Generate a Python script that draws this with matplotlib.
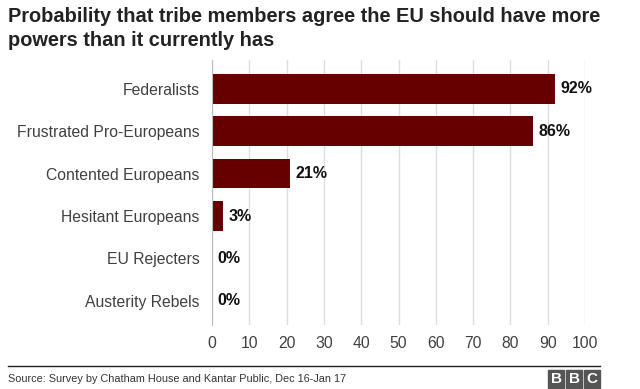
import matplotlib
matplotlib.use('agg')
import matplotlib.pyplot as plt
from matplotlib.patches import Rectangle

plt.rcParams['font.family'] = ['Liberation Sans', 'DejaVu Sans']

#chart data
tribes = ['Federalists', 'Frustrated Pro-Europeans', 'Contented Europeans',
          'Hesitant Europeans', 'EU Rejecters', 'Austerity Rebels']
probs = [92, 86, 21, 3, 0, 0]
xticks = [0, 10, 20, 30, 40, 50, 60, 70, 80, 90, 100]

title = 'Probability that tribe members agree the EU should have more\npowers than it currently has'
source = 'Source: Survey by Chatham House and Kantar Public, Dec 16-Jan 17'

fig = plt.figure(figsize=(6.4, 3.89), dpi=100)
ax = fig.add_axes([212/640, 1-325/389, 373/640, 265/389])

pos = list(range(len(tribes)))
ax.barh(pos, probs, height=0.7, color='#660000', zorder=3)
for i, v in zip(pos, probs):
	ax.text(v + 1.4, i, '%d%%' % v, va='center', ha='left', fontsize=11.5,
		fontweight='bold', color='#111111')

ax.set_ylim(5.57, -0.68)
ax.set_xlim(0, 100)
ax.set_xticks(xticks)
ax.set_yticks(pos)
ax.set_yticklabels(tribes)
ax.tick_params(axis='y', length=0, pad=9, labelsize=11.3, labelcolor='#404040')
ax.tick_params(axis='x', length=0, pad=8, labelsize=11.3, labelcolor='#404040')
ax.grid(axis='x', color='#dddddd', lw=1, zorder=0)
for s in ['top', 'right', 'bottom']:
	ax.spines[s].set_visible(False)
ax.spines['left'].set_color('#bbbbbb')
ax.spines['left'].set_zorder(4)

fig.text(8/640, 1-7/389, title, ha='left', va='top', fontsize=14.4, fontweight='bold',
	color='#222222', linespacing=1.33)

#footer rule, source and logo
fig.add_artist(plt.Line2D([8/640, 600/640], [1-366/389, 1-366/389], color='#222222', lw=1))
fig.text(8/640, 1-379/389, source, ha='left', va='center', fontsize=7.8, color='#333333')
for k, letter in enumerate('BBC'):
	x0 = (548 + k*18)/640
	fig.add_artist(Rectangle((x0, 1-388/389), 16/640, 18/389, color='#555555',
		transform=fig.transFigure))
	fig.text(x0 + 8/640, 1-379/389, letter, ha='center', va='center', fontsize=11,
		fontweight='bold', color='white')

plt.savefig('out.png', dpi=100)
